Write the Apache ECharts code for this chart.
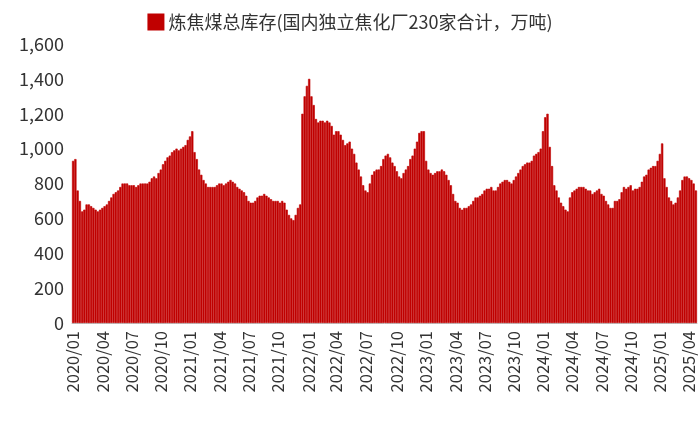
<!DOCTYPE html>
<html><head><meta charset="utf-8">
<script src="https://cdn.jsdelivr.net/npm/echarts@6/dist/echarts.min.js"></script>
<style>html,body{margin:0;padding:0;background:#fff}#c{width:700px;height:426px}</style>
</head><body><div id="c"></div>
<script>
var seriesName = '炼焦煤总库存(国内独立焦化厂230家合计，万吨)';
var startDate = '2020-01-03';
var yTicks = [0, 200, 400, 600, 800, 1000, 1200, 1400, 1600];
var stock2020 = [930,940,760,700,640,650,680,680,670,660,650,640,650,
  660,670,680,700,720,740,750,760,780,800,800,800,790,
  790,790,780,790,800,800,800,800,810,830,840,830,860,
  880,910,930,950,960,980,990,1000,990,1000,1010,1020,1050];
var stock2021 = [1070,1100,980,940,880,850,820,800,780,780,780,780,790,
  800,800,790,800,810,820,810,800,780,770,760,750,730,
  700,690,690,700,720,730,730,740,730,720,710,700,700,
  700,690,700,690,650,620,600,590,620,660,680,1200,1300];
var stock2022 = [1360,1400,1300,1250,1170,1150,1160,1160,1150,1160,1150,1130,1080,
  1100,1100,1080,1050,1020,1030,1040,1000,970,920,880,840,790,
  760,750,800,850,870,880,880,900,940,960,970,950,920,
  900,870,840,830,860,880,900,940,960,1000,1040,1090,1100];
var stock2023 = [1100,930,880,860,850,860,870,870,880,870,850,820,790,
  740,700,690,660,650,660,660,670,680,700,720,720,730,
  740,760,770,770,780,760,760,780,800,810,820,820,810,
  800,820,840,860,880,900,910,920,920,930,960,970,980];
var stock2024 = [1000,1100,1180,1200,1010,900,790,760,720,690,670,650,640,
  720,750,760,770,780,780,780,770,760,760,740,750,760,
  770,740,730,700,680,660,660,700,700,710,750,780,770,
  780,790,760,770,770,780,810,840,850,880,890,900,900];
var stock2025 = [930,970,1030,830,780,720,700,680,690,720,760,820,840,
  840,830,820,800,760];

var values = [].concat(stock2020, stock2021, stock2022, stock2023, stock2024, stock2025);
var dates = [];
var d0 = new Date(startDate + 'T00:00:00Z');
for (var i = 0; i < values.length; i++) {
  var d = new Date(d0.getTime() + i * 7 * 86400000);
  var m = d.getUTCMonth() + 1;
  dates.push(d.getUTCFullYear() + '/' + (m < 10 ? '0' + m : m) + '/' + d.getUTCDate());
}
var showIdx = {};
var seen = {};
dates.forEach(function (s, i) {
  var p = s.split('/'), m = +p[1];
  var key = p[0] + '/' + p[1];
  if ((m - 1) % 3 === 0 && !seen[key]) { seen[key] = 1; showIdx[i] = key; }
});
var pick = function (i) { return showIdx[i] !== undefined; };

var chart = echarts.init(document.getElementById('c'));
chart.setOption({
  animation: false,
  legend: {
    top: 8, left: 'center', itemWidth: 15, itemHeight: 15, icon: 'rect',
    textStyle: { fontSize: 18, color: '#333', fontFamily: 'Noto Sans CJK SC' },
    data: [seriesName]
  },
  grid: { left: 72, right: 3, top: 44, bottom: 103 },
  xAxis: {
    type: 'category', data: dates, boundaryGap: true,
    axisLine: { lineStyle: { color: '#bfbfbf' } },
    axisTick: { interval: pick, lineStyle: { color: '#bfbfbf' }, length: 5 },
    axisLabel: {
      interval: pick, rotate: 90, fontSize: 16.5, color: '#333', fontFamily: 'Noto Sans CJK SC',
      formatter: function (v) { var p = v.split('/'); return p[0] + '/' + p[1]; }
    }
  },
  yAxis: {
    type: 'value', min: yTicks[0], max: yTicks[yTicks.length - 1], interval: 200,
    splitLine: { show: false },
    axisLabel: { fontSize: 18, color: '#333', fontFamily: 'Noto Sans CJK SC',
      formatter: function (v) { return v.toLocaleString('en-US'); } }
  },
  series: [{
    name: seriesName, type: 'bar', data: values, barCategoryGap: 0,
    itemStyle: { color: '#C00000', borderColor: '#C00000', borderWidth: 0.6 }
  }]
});
</script></body></html>
